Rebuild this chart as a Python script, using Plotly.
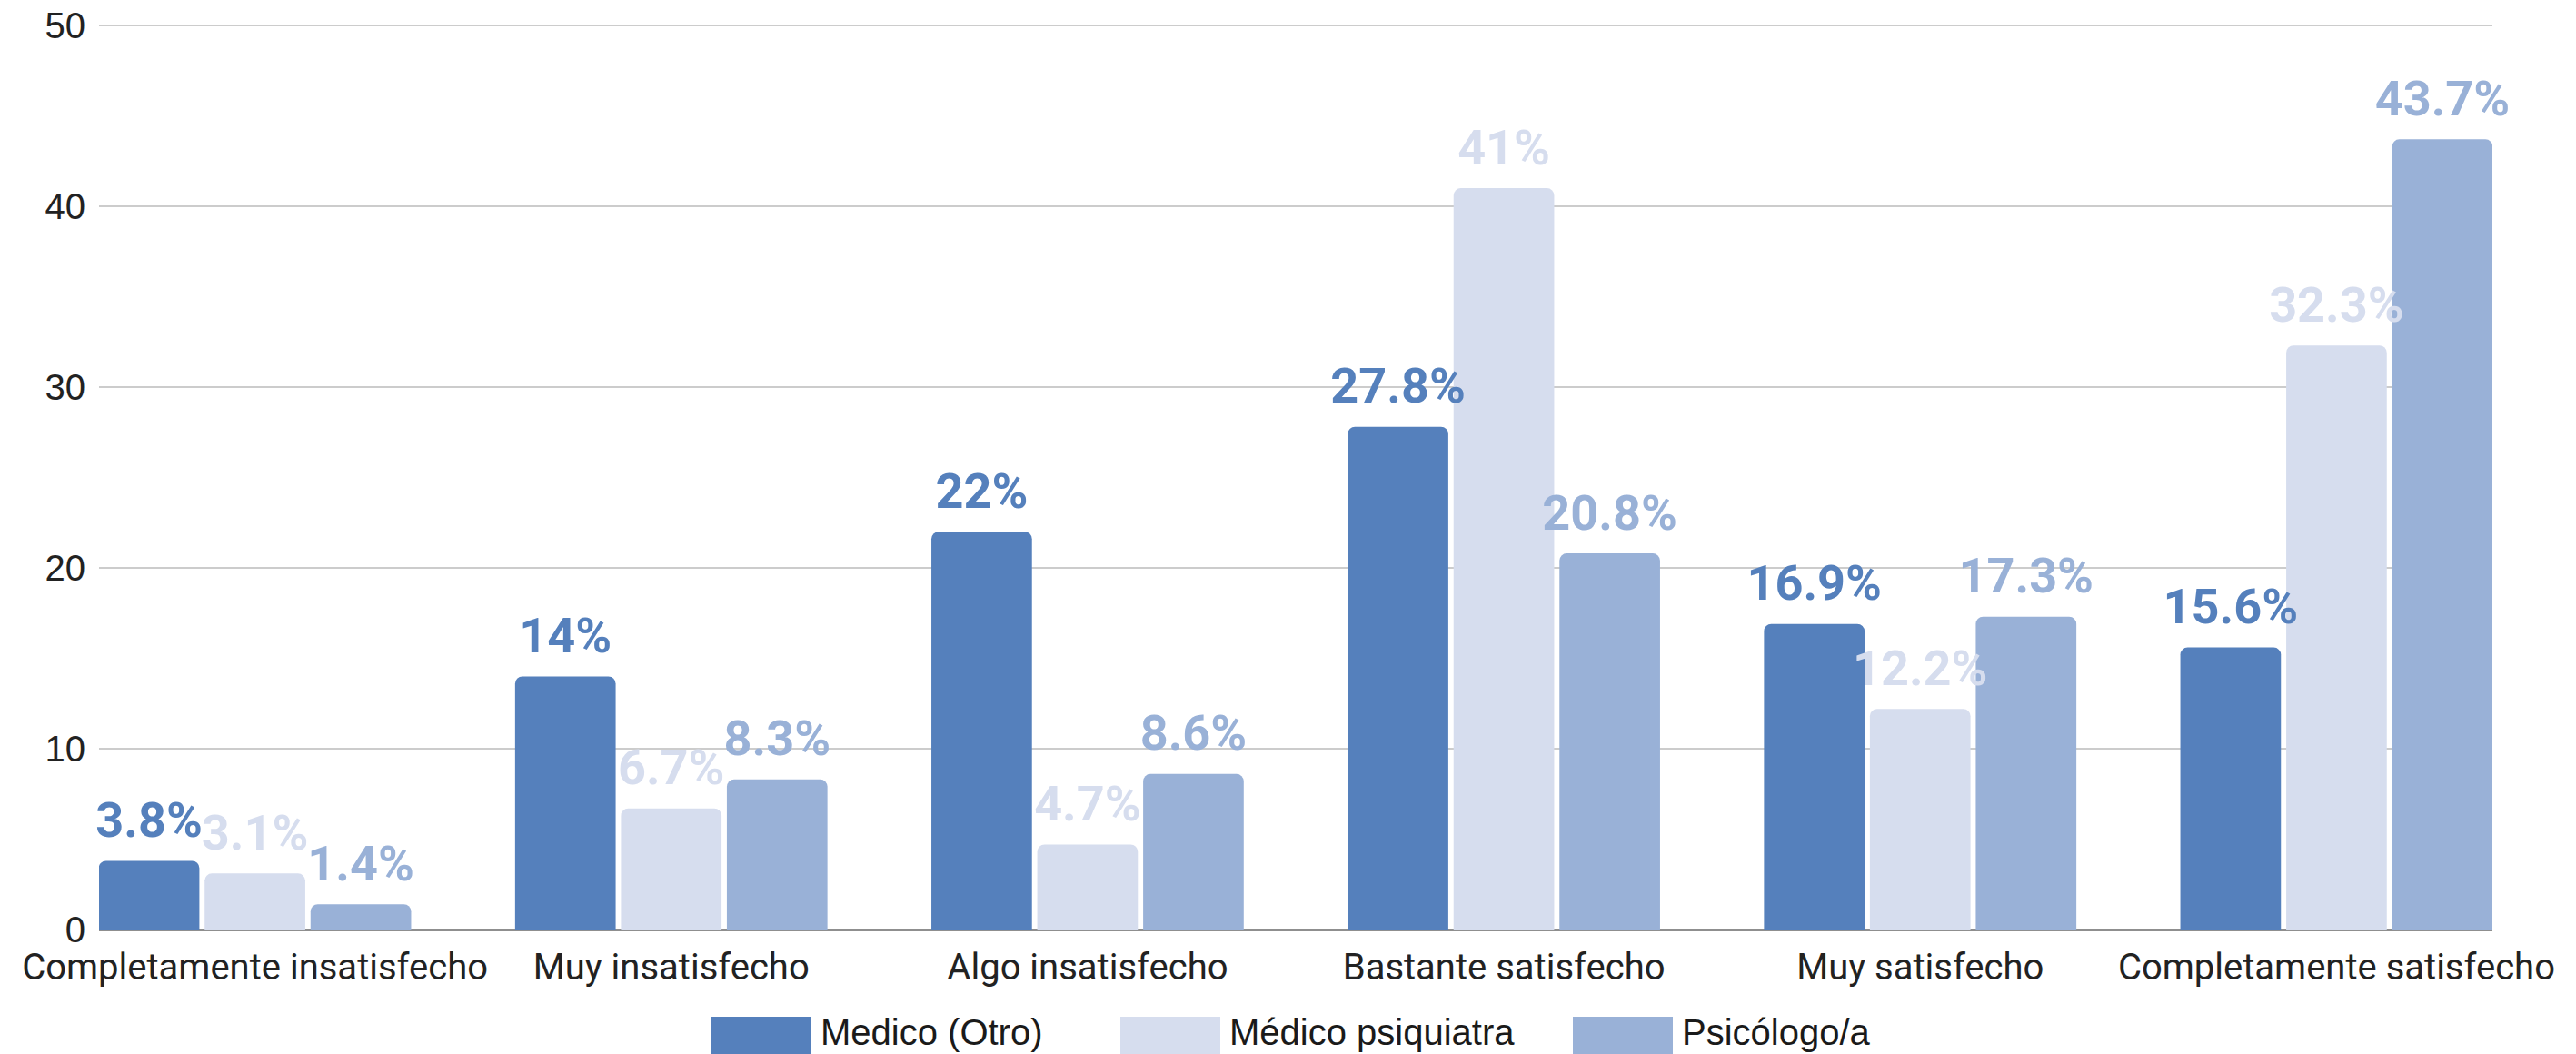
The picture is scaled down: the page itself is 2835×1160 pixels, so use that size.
import plotly.graph_objects as go

# ---------------- data ----------------
categories = ["Completamente insatisfecho", "Muy insatisfecho", "Algo insatisfecho",
              "Bastante satisfecho", "Muy satisfecho", "Completamente satisfecho"]
series_names = ["Medico (Otro)", "Médico psiquiatra", "Psicólogo/a"]
medico_otro = [3.8, 14, 22, 27.8, 16.9, 15.6]
medico_psiquiatra = [3.1, 6.7, 4.7, 41, 12.2, 32.3]
psicologo = [1.4, 8.3, 8.6, 20.8, 17.3, 43.7]
y_ticks = [0, 10, 20, 30, 40, 50]

# ---------------- style ----------------
colors = ["#5580BC", "#D6DDEE", "#99B1D7"]
W, H = 2835, 1160
OFF = 8  # page body margin of the html page
M_L, M_R, M_T, M_B = 109 - OFF, 92 + OFF, 26 - OFF, 137 + OFF
BARGAP = 0.237
GROUPGAP = 0.05
LABEL_FONT = "Roboto, Liberation Sans, Arial, sans-serif"
TICK_FONT_X = "Roboto, Liberation Sans, Arial, sans-serif"
TICK_FONT_Y = "Liberation Sans, Arial, sans-serif"

series_values = [medico_otro, medico_psiquiatra, psicologo]

fig = go.Figure()
for i, (name, vals) in enumerate(zip(series_names, series_values)):
    fig.add_trace(go.Bar(
        x=categories, y=vals, name=name,
        marker=dict(color=colors[i], line=dict(width=0), cornerradius=8),
        offsetgroup=str(i), showlegend=False, hoverinfo="x+y+name",
    ))
for i, (name, vals) in enumerate(zip(series_names, series_values)):
    fig.add_trace(go.Scatter(
        x=categories, y=vals, name=name, mode="markers+text",
        orientation="v", offsetgroup=str(i),
        text=[f"{v:g}%" for v in vals], textposition="top center",
        textfont=dict(family=LABEL_FONT, size=54, color=colors[i], weight="bold"),
        marker=dict(size=19, opacity=0, color=colors[i]),
        cliponaxis=False, showlegend=False, hoverinfo="skip",
    ))

# ---------------- custom legend (large swatches) ----------------
plot_w = W - M_L - M_R
plot_h = H - M_T - M_B
def px_x(px):
    return (px - OFF - M_L) / plot_w
def px_y(py):
    return (H - M_B - (py - OFF)) / plot_h

legend_swatch_x = [783, 1233, 1731]
sw_w, sw_top, sw_bot = 110, 1119, 1175
for i, name in enumerate(series_names):
    x0 = legend_swatch_x[i]
    fig.add_shape(type="rect", xref="paper", yref="paper",
                  x0=px_x(x0), x1=px_x(x0 + sw_w), y0=px_y(sw_bot), y1=px_y(sw_top),
                  fillcolor=colors[i], line=dict(width=0), layer="above")
    fig.add_annotation(xref="paper", yref="paper", x=px_x(x0 + sw_w + 8), y=px_y(1136),
                       xanchor="left", yanchor="middle", text=name, showarrow=False,
                       font=dict(family=TICK_FONT_Y, size=40, color="#1a1a1a"))

fig.update_layout(
    width=W, height=H, autosize=False,
    margin=dict(l=M_L, r=M_R, t=M_T, b=M_B, pad=0),
    paper_bgcolor="white", plot_bgcolor="white",
    barmode="group", bargap=BARGAP, bargroupgap=GROUPGAP,
    scattermode="group", scattergap=BARGAP,
    showlegend=False,
)
fig.update_xaxes(
    type="category", range=[-0.3745, 5.3745], automargin=False,
    showgrid=False, showline=False, ticks="", ticklabelstandoff=14,
    ticklabeloverflow="allow",
    tickfont=dict(family=TICK_FONT_X, size=40, color="#222222"),
)
fig.update_yaxes(
    range=[0, 50.1], tickvals=y_ticks, automargin=False,
    showgrid=True, gridcolor="#CCCCCC", gridwidth=2,
    zeroline=True, zerolinecolor="#8F8F8F", zerolinewidth=3,
    showline=False, ticks="", ticklabelstandoff=14,
    ticklabeloverflow="allow",
    tickfont=dict(family=TICK_FONT_Y, size=40, color="#222222"),
)

fig.write_html("out.html")
